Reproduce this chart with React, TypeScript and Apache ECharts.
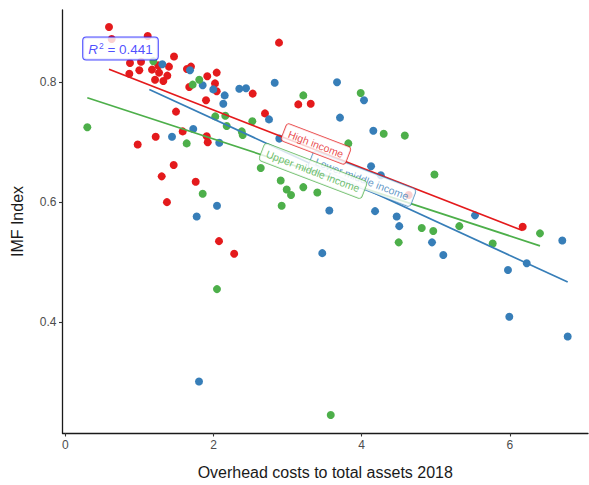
import React, { useEffect, useRef } from "react";
import * as echarts from "echarts";

// High income
const highX = [0.590, 1.112, 0.626, 0.873, 1.022, 1.467, 0.864, 0.999, 1.170, 1.255, 1.265, 1.399, 1.211, 1.323, 1.377, 1.642, 1.696, 1.916, 2.043, 1.673, 2.020, 2.043, 1.899, 2.529, 1.494, 1.584, 1.220, 0.977, 1.908, 1.922, 1.463, 1.301, 1.760, 1.372, 2.074, 2.279, 2.695, 3.144, 3.312, 4.634, 6.173, 2.884];
const highY = [0.892, 0.877, 0.872, 0.832, 0.834, 0.843, 0.814, 0.820, 0.821, 0.828, 0.816, 0.826, 0.804, 0.802, 0.811, 0.822, 0.826, 0.810, 0.816, 0.792, 0.798, 0.785, 0.770, 0.781, 0.751, 0.718, 0.709, 0.696, 0.710, 0.700, 0.662, 0.643, 0.634, 0.600, 0.535, 0.514, 0.748, 0.763, 0.764, 0.612, 0.559, 0.866];

// Lower middle income
const lowerX = [1.309, 1.683, 1.854, 1.997, 2.151, 2.132, 2.348, 2.439, 1.727, 1.440, 2.078, 2.047, 1.773, 1.804, 2.826, 3.667, 4.031, 2.749, 3.707, 4.157, 2.888, 4.126, 4.258, 3.563, 4.180, 4.472, 4.507, 3.468, 4.949, 5.529, 5.101, 6.227, 5.974, 5.992, 6.707, 6.780];
const lowerY = [0.830, 0.820, 0.795, 0.788, 0.778, 0.764, 0.789, 0.790, 0.722, 0.709, 0.699, 0.594, 0.576, 0.301, 0.799, 0.800, 0.770, 0.738, 0.741, 0.719, 0.706, 0.660, 0.645, 0.586, 0.585, 0.576, 0.560, 0.515, 0.533, 0.578, 0.512, 0.498, 0.487, 0.409, 0.536, 0.376];

// Upper middle income
const upperX = [1.188, 1.808, 1.719, 2.024, 2.159, 2.178, 2.381, 2.394, 2.524, 0.297, 1.638, 1.854, 2.638, 2.047, 2.920, 3.212, 3.986, 4.297, 4.582, 3.819, 4.982, 2.907, 3.212, 2.988, 3.046, 3.401, 4.499, 4.810, 4.966, 5.317, 5.768, 6.406, 3.582];
const upperY = [0.835, 0.804, 0.796, 0.743, 0.744, 0.727, 0.718, 0.712, 0.735, 0.725, 0.698, 0.614, 0.657, 0.455, 0.594, 0.778, 0.782, 0.714, 0.711, 0.698, 0.646, 0.636, 0.625, 0.621, 0.612, 0.616, 0.533, 0.557, 0.552, 0.560, 0.531, 0.548, 0.245];

// Fitted lines: [intercept, slope, xStart, xEnd]
const highFit = [0.850, -0.0482, 0.59, 6.17];
const lowerFit = [0.8525, -0.0569, 1.134, 6.78];
const upperFit = [0.786, -0.0404, 0.297, 6.406];

// Label anchors (data coords)
const groupNames = ["High income", "Lower middle income", "Upper middle income"];
const labelX = [3.383, 4.004, 3.343];
const labelY = [0.697, 0.639, 0.652];
const r2Text = "0.441";
const r2Pos = [0.745, 0.856];

const xTicks = [0, 2, 4, 6];
const yTicks = [0.4, 0.6, 0.8];

const RED = "#E41A1C";
const BLUE = "#377EB8";
const GREEN = "#4DAF4A";
const FONT = "Liberation Sans, Arial, sans-serif";

function zip(xs: number[], ys: number[]) {
  return xs.map((x, i) => [x, ys[i]]);
}
function fitLine(f: number[]) {
  const [a, b, x0, x1] = f;
  return [[x0, a + b * x0], [x1, a + b * x1]];
}

export default function App() {
  const ref = useRef<HTMLDivElement>(null);
  useEffect(() => {
    if (!ref.current) return;
    const chart = echarts.init(ref.current, undefined, { renderer: "svg" });
    const colors = [RED, BLUE, GREEN];
    const scat = (xs: number[], ys: number[], c: string) => ({
      type: "scatter",
      data: zip(xs, ys),
      symbolSize: 8,
      itemStyle: { color: c, opacity: 1 },
      z: 2,
      silent: true,
    });
    const line = (f: number[], c: string) => ({
      type: "line",
      data: fitLine(f),
      symbol: "none",
      lineStyle: { color: c, width: 1.7 },
      z: 3,
      silent: true,
    });
    const labelSeries = (i: number, zz: number) => ({
      type: "scatter",
      data: [[labelX[i], labelY[i]]],
      symbolSize: 1,
      itemStyle: { color: "rgba(0,0,0,0)" },
      z: zz,
      silent: true,
      label: {
        show: true,
        position: "inside",
        formatter: groupNames[i],
        rotate: -21,
        color: colors[i],
        fontSize: 10.5,
        fontFamily: FONT,
        backgroundColor: "#ffffff",
        borderColor: colors[i],
        borderWidth: 0.8,
        borderRadius: 3,
        padding: [4, 5, 3, 5],
      },
    });
    chart.setOption({
      animation: false,
      grid: { left: 62.5, right: 1, top: 10, bottom: 49, containLabel: false },
      xAxis: {
        type: "value",
        min: -0.0378,
        max: 7.054,
        name: "Overhead costs to total assets 2018",
        nameLocation: "middle",
        nameGap: 31,
        nameTextStyle: { fontSize: 16, color: "#1a1a1a", fontFamily: FONT },
        splitLine: { show: false },
        axisLine: { show: true, onZero: false, lineStyle: { color: "#1a1a1a", width: 1.3 } },
        axisTick: { show: true, customValues: xTicks, length: 3.5, lineStyle: { color: "#333", width: 1.1 } },
        axisLabel: { customValues: xTicks, color: "#4d4d4d", fontSize: 12, fontFamily: FONT, margin: 6 },
      },
      yAxis: {
        type: "value",
        min: 0.2151,
        max: 0.9204,
        name: "IMF Index",
        nameLocation: "middle",
        nameGap: 37,
        nameRotate: 90,
        nameTextStyle: { fontSize: 16, color: "#1a1a1a", fontFamily: FONT },
        splitLine: { show: false },
        axisLine: { show: true, onZero: false, lineStyle: { color: "#1a1a1a", width: 1.3 } },
        axisTick: { show: true, customValues: yTicks, length: 3.5, lineStyle: { color: "#333", width: 1.1 } },
        axisLabel: {
          customValues: yTicks,
          color: "#4d4d4d",
          fontSize: 12,
          fontFamily: FONT,
          margin: 6,
          formatter: (v: number) => v.toFixed(1),
        },
      },
      series: [
        scat(highX, highY, RED),
        scat(lowerX, lowerY, BLUE),
        scat(upperX, upperY, GREEN),
        line(highFit, RED),
        line(lowerFit, BLUE),
        line(upperFit, GREEN),
        labelSeries(1, 10),
        labelSeries(0, 11),
        labelSeries(2, 12),
        {
          type: "scatter",
          data: [r2Pos],
          symbolSize: 1,
          itemStyle: { color: "rgba(0,0,0,0)" },
          z: 13,
          silent: true,
          label: {
            show: true,
            position: "inside",
            formatter: "{i|R}{s|2}{n| = " + r2Text + "}",
            backgroundColor: "#ffffff",
            borderColor: "#1f1fff",
            borderWidth: 1,
            borderRadius: 3,
            padding: [4, 5, 3, 5],
            rich: {
              i: { fontStyle: "italic", fontSize: 13.5, color: "#1f1fff", fontFamily: FONT, verticalAlign: "bottom" },
              s: { fontSize: 8.5, color: "#1f1fff", fontFamily: FONT, verticalAlign: "top", padding: [0, 0, 6, 1] },
              n: { fontSize: 13.5, color: "#1f1fff", fontFamily: FONT, verticalAlign: "bottom" },
            },
          },
        },
      ],
    });
    return () => chart.dispose();
  }, []);
  return <div ref={ref} style={{ width: 589, height: 485, position: "absolute", left: 0, top: 0, background: "#fff" }} />;
}
